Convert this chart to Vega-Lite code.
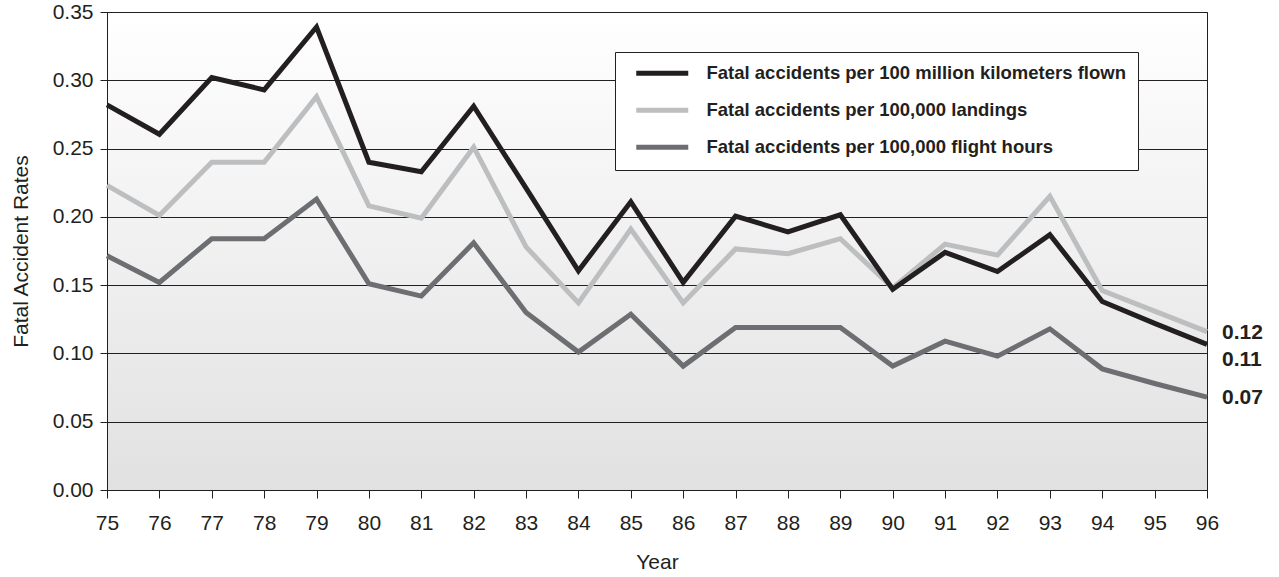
{
  "$schema": "https://vega.github.io/schema/vega-lite/v6.json",
  "width": 1100,
  "height": 478,
  "autosize": {"type": "none"},
  "padding": {"left": 107, "top": 12, "right": 72, "bottom": 87},
  "background": "white",
  "config": {
    "font": "Liberation Sans",
    "view": {
      "stroke": "#231f20",
      "strokeWidth": 1,
      "fill": {
        "gradient": "linear",
        "x1": 0, "y1": 0, "x2": 0, "y2": 1,
        "stops": [
          {"offset": 0, "color": "#ffffff"},
          {"offset": 1, "color": "#e1e1e2"}
        ]
      }
    },
    "axis": {
      "labelFont": "Liberation Sans",
      "labelFontSize": 21,
      "labelColor": "#231f20",
      "titleFont": "Liberation Sans",
      "titleFontSize": 21,
      "titleFontWeight": "normal",
      "titleColor": "#231f20",
      "domainColor": "#231f20",
      "tickColor": "#231f20",
      "gridColor": "#231f20",
      "gridOpacity": 1,
      "gridWidth": 1
    },
    "legend": {
      "orient": "none",
      "legendX": 508,
      "legendY": 40,
      "padding": 12,
      "fillColor": "white",
      "strokeColor": "#231f20",
      "symbolType": "M-4,0H4",
      "symbolSize": 169,
      "symbolStrokeWidth": 5,
      "symbolOffset": 26,
      "labelOffset": 35,
      "rowPadding": 16,
      "labelFont": "Liberation Sans",
      "labelFontSize": 18.5,
      "labelFontWeight": "bold",
      "labelColor": "#231f20",
      "labelLimit": 700
    }
  },
  "datasets": {
    "rates": [
      {"year": 75, "series": "Fatal accidents per 100,000 flight hours", "rate": 0.1715},
      {"year": 76, "series": "Fatal accidents per 100,000 flight hours", "rate": 0.152},
      {"year": 77, "series": "Fatal accidents per 100,000 flight hours", "rate": 0.184},
      {"year": 78, "series": "Fatal accidents per 100,000 flight hours", "rate": 0.184},
      {"year": 79, "series": "Fatal accidents per 100,000 flight hours", "rate": 0.213},
      {"year": 80, "series": "Fatal accidents per 100,000 flight hours", "rate": 0.151},
      {"year": 81, "series": "Fatal accidents per 100,000 flight hours", "rate": 0.142},
      {"year": 82, "series": "Fatal accidents per 100,000 flight hours", "rate": 0.181},
      {"year": 83, "series": "Fatal accidents per 100,000 flight hours", "rate": 0.13},
      {"year": 84, "series": "Fatal accidents per 100,000 flight hours", "rate": 0.101},
      {"year": 85, "series": "Fatal accidents per 100,000 flight hours", "rate": 0.1287},
      {"year": 86, "series": "Fatal accidents per 100,000 flight hours", "rate": 0.0907},
      {"year": 87, "series": "Fatal accidents per 100,000 flight hours", "rate": 0.119},
      {"year": 88, "series": "Fatal accidents per 100,000 flight hours", "rate": 0.119},
      {"year": 89, "series": "Fatal accidents per 100,000 flight hours", "rate": 0.119},
      {"year": 90, "series": "Fatal accidents per 100,000 flight hours", "rate": 0.0907},
      {"year": 91, "series": "Fatal accidents per 100,000 flight hours", "rate": 0.109},
      {"year": 92, "series": "Fatal accidents per 100,000 flight hours", "rate": 0.098},
      {"year": 93, "series": "Fatal accidents per 100,000 flight hours", "rate": 0.118},
      {"year": 94, "series": "Fatal accidents per 100,000 flight hours", "rate": 0.0887},
      {"year": 95, "series": "Fatal accidents per 100,000 flight hours", "rate": 0.078},
      {"year": 96, "series": "Fatal accidents per 100,000 flight hours", "rate": 0.068},
      {"year": 75, "series": "Fatal accidents per 100,000 landings", "rate": 0.223},
      {"year": 76, "series": "Fatal accidents per 100,000 landings", "rate": 0.201},
      {"year": 77, "series": "Fatal accidents per 100,000 landings", "rate": 0.24},
      {"year": 78, "series": "Fatal accidents per 100,000 landings", "rate": 0.24},
      {"year": 79, "series": "Fatal accidents per 100,000 landings", "rate": 0.288},
      {"year": 80, "series": "Fatal accidents per 100,000 landings", "rate": 0.208},
      {"year": 81, "series": "Fatal accidents per 100,000 landings", "rate": 0.199},
      {"year": 82, "series": "Fatal accidents per 100,000 landings", "rate": 0.251},
      {"year": 83, "series": "Fatal accidents per 100,000 landings", "rate": 0.178},
      {"year": 84, "series": "Fatal accidents per 100,000 landings", "rate": 0.137},
      {"year": 85, "series": "Fatal accidents per 100,000 landings", "rate": 0.191},
      {"year": 86, "series": "Fatal accidents per 100,000 landings", "rate": 0.137},
      {"year": 87, "series": "Fatal accidents per 100,000 landings", "rate": 0.1765},
      {"year": 88, "series": "Fatal accidents per 100,000 landings", "rate": 0.173},
      {"year": 89, "series": "Fatal accidents per 100,000 landings", "rate": 0.184},
      {"year": 90, "series": "Fatal accidents per 100,000 landings", "rate": 0.148},
      {"year": 91, "series": "Fatal accidents per 100,000 landings", "rate": 0.18},
      {"year": 92, "series": "Fatal accidents per 100,000 landings", "rate": 0.172},
      {"year": 93, "series": "Fatal accidents per 100,000 landings", "rate": 0.215},
      {"year": 94, "series": "Fatal accidents per 100,000 landings", "rate": 0.146},
      {"year": 95, "series": "Fatal accidents per 100,000 landings", "rate": 0.131},
      {"year": 96, "series": "Fatal accidents per 100,000 landings", "rate": 0.116},
      {"year": 75, "series": "Fatal accidents per 100 million kilometers flown", "rate": 0.282},
      {"year": 76, "series": "Fatal accidents per 100 million kilometers flown", "rate": 0.2605},
      {"year": 77, "series": "Fatal accidents per 100 million kilometers flown", "rate": 0.302},
      {"year": 78, "series": "Fatal accidents per 100 million kilometers flown", "rate": 0.293},
      {"year": 79, "series": "Fatal accidents per 100 million kilometers flown", "rate": 0.339},
      {"year": 80, "series": "Fatal accidents per 100 million kilometers flown", "rate": 0.24},
      {"year": 81, "series": "Fatal accidents per 100 million kilometers flown", "rate": 0.233},
      {"year": 82, "series": "Fatal accidents per 100 million kilometers flown", "rate": 0.281},
      {"year": 83, "series": "Fatal accidents per 100 million kilometers flown", "rate": 0.221},
      {"year": 84, "series": "Fatal accidents per 100 million kilometers flown", "rate": 0.1605},
      {"year": 85, "series": "Fatal accidents per 100 million kilometers flown", "rate": 0.211},
      {"year": 86, "series": "Fatal accidents per 100 million kilometers flown", "rate": 0.152},
      {"year": 87, "series": "Fatal accidents per 100 million kilometers flown", "rate": 0.2005},
      {"year": 88, "series": "Fatal accidents per 100 million kilometers flown", "rate": 0.189},
      {"year": 89, "series": "Fatal accidents per 100 million kilometers flown", "rate": 0.2015},
      {"year": 90, "series": "Fatal accidents per 100 million kilometers flown", "rate": 0.147},
      {"year": 91, "series": "Fatal accidents per 100 million kilometers flown", "rate": 0.174},
      {"year": 92, "series": "Fatal accidents per 100 million kilometers flown", "rate": 0.16},
      {"year": 93, "series": "Fatal accidents per 100 million kilometers flown", "rate": 0.187},
      {"year": 94, "series": "Fatal accidents per 100 million kilometers flown", "rate": 0.138},
      {"year": 95, "series": "Fatal accidents per 100 million kilometers flown", "rate": 0.122},
      {"year": 96, "series": "Fatal accidents per 100 million kilometers flown", "rate": 0.1066}
    ]
  },
  "data": {"name": "rates"},
  "encoding": {
    "x": {
      "field": "year",
      "type": "quantitative",
      "scale": {"domain": [75, 96], "nice": false, "zero": false},
      "axis": {
        "title": "Year",
        "values": [75, 76, 77, 78, 79, 80, 81, 82, 83, 84, 85, 86, 87, 88, 89, 90, 91, 92, 93, 94, 95, 96],
        "format": "d",
        "grid": false,
        "tickSize": 8,
        "labelPadding": 14,
        "titlePadding": 18,
        "labelFlush": false,
        "labelOverlap": false
      }
    },
    "y": {
      "field": "rate",
      "type": "quantitative",
      "scale": {"domain": [0, 0.35], "nice": false},
      "axis": {
        "title": "Fatal Accident Rates",
        "values": [0, 0.05, 0.1, 0.15, 0.2, 0.25, 0.3, 0.35],
        "format": ".2f",
        "grid": true,
        "tickSize": 7,
        "labelPadding": 7,
        "titlePadding": 21,
        "labelFlush": false
      }
    }
  },
  "layer": [
    {
      "mark": {"type": "line", "strokeWidth": 5, "strokeJoin": "miter"},
      "encoding": {
        "color": {
          "field": "series",
          "type": "nominal",
          "scale": {
            "domain": [
              "Fatal accidents per 100 million kilometers flown",
              "Fatal accidents per 100,000 landings",
              "Fatal accidents per 100,000 flight hours"
            ],
            "range": ["#231f20", "#bcbec0", "#6d6e71"]
          },
          "legend": {"title": null}
        }
      }
    },
    {
      "transform": [
        {"filter": "datum.year == 96 && datum.series == 'Fatal accidents per 100 million kilometers flown'"}
      ],
      "mark": {"type": "text", "align": "left", "baseline": "middle", "dx": 15, "dy": 16, "fontSize": 21, "fontWeight": "bold", "color": "#231f20"},
      "encoding": {"text": {"field": "rate", "type": "quantitative", "format": ".2f"}}
    },
    {
      "transform": [
        {"filter": "datum.year == 96 && datum.series != 'Fatal accidents per 100 million kilometers flown'"}
      ],
      "mark": {"type": "text", "align": "left", "baseline": "middle", "dx": 15, "dy": 1, "fontSize": 21, "fontWeight": "bold", "color": "#231f20"},
      "encoding": {"text": {"field": "rate", "type": "quantitative", "format": ".2f"}}
    }
  ]
}
